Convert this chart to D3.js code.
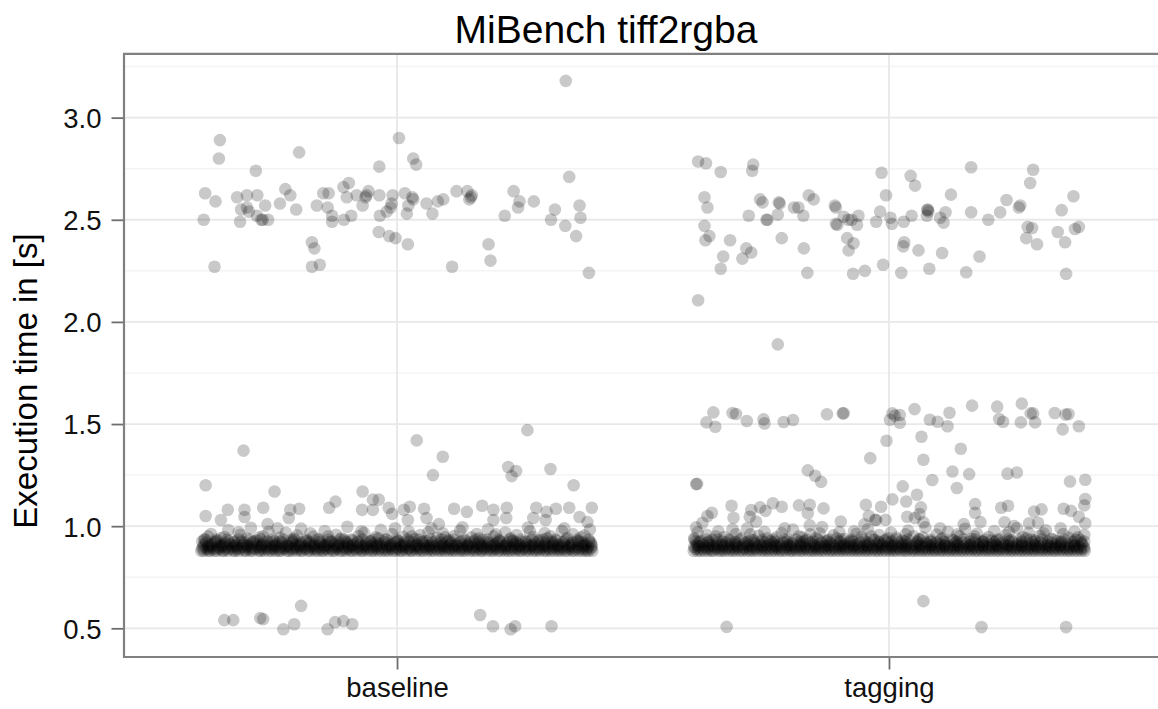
<!DOCTYPE html>
<html><head><meta charset="utf-8">
<script src="https://cdn.jsdelivr.net/npm/d3@7"></script>
<style>body{margin:0;background:#fff}svg{display:block;font-family:"Liberation Sans",Arial,Helvetica,sans-serif}</style>
</head><body><svg id="c" width="1158" height="709"></svg>
<script>
const categories = ["baseline", "tagging"];
const yTicks = [0.5, 1.0, 1.5, 2.0, 2.5, 3.0];
const yMinorTicks = [0.75, 1.25, 1.75, 2.25, 2.75, 3.25];
const titleText = "MiBench tiff2rgba";
const yLabel = "Execution time in [s]";

// Each point: [jitter, execution time]. Jitter is given in thousandths of the category step.
const baselineOutliers = [
[343,3.18],[-360,2.89],[-362,2.80],[-199,2.83],[-287,2.74],[4,2.90],[33,2.80],[39,2.77],[-36,2.76],[350,2.71],
[-390,2.63],[-369,2.59],[-393,2.50],[-371,2.27],[-325,2.61],[-305,2.62],[-284,2.62],[-317,2.55],[-305,2.56],[-301,2.54],
[-319,2.49],[-285,2.52],[-276,2.50],[-273,2.50],[-262,2.50],[-268,2.57],[-238,2.58],[-227,2.65],[-217,2.62],[-205,2.55],
[-163,2.57],[-150,2.63],[-139,2.63],[-141,2.56],[-132,2.52],[-132,2.49],[-108,2.50],[-93,2.52],[-109,2.66],[-98,2.68],
[-102,2.61],[-82,2.62],[-70,2.57],[-62,2.62],[-58,2.64],[-64,2.61],[-36,2.62],[-35,2.52],[-21,2.54],[-13,2.56],
[-11,2.58],[-9,2.62],[16,2.63],[31,2.61],[33,2.60],[23,2.57],[20,2.53],[-37,2.44],[-16,2.42],[-3,2.41],
[22,2.38],[-173,2.39],[-168,2.36],[-173,2.27],[-157,2.28],[60,2.58],[72,2.53],[83,2.59],[94,2.60],[121,2.64],
[143,2.64],[147,2.60],[152,2.62],[150,2.61],[112,2.27],[186,2.38],[190,2.30],[219,2.52],[237,2.64],[249,2.59],
[246,2.56],[278,2.59],[321,2.55],[313,2.50],[342,2.47],[364,2.42],[371,2.57],[373,2.51],[390,2.24],
[265,1.47],[40,1.42],[-312,1.37],[93,1.34],[73,1.25],[226,1.29],[242,1.27],[233,1.245],[312,1.28],[359,1.20],
[-389,1.20],[-249,1.17],[-70,1.17],[-49,1.13],[-37,1.13],[-125,1.12],[-138,1.09],[-389,1.05],[-358,1.03],[-344,1.08],
[-310,1.08],[-310,1.045],[-272,1.09],[-217,1.08],[-199,1.085],[-220,1.04],[-263,1.01],[-71,1.08],[-49,1.08],[-17,1.09],
[-10,1.06],[14,1.08],[26,1.095],[22,1.03],[55,1.085],[60,1.04],[85,1.01],[116,1.085],[142,1.07],[173,1.10],
[196,1.08],[223,1.09],[196,1.03],[222,1.04],[283,1.09],[304,1.07],[323,1.085],[277,1.04],[302,1.03],[350,1.09],
[371,1.045],[396,1.09],[387,1.02],
[-351,0.54],[-333,0.54],[-278,0.55],[-272,0.545],[-195,0.61],[-231,0.495],[-209,0.52],[-141,0.495],[-126,0.53],[-109,0.535],
[-91,0.52],[169,0.565],[195,0.51],[231,0.495],[240,0.51],[314,0.51]
];
const baselineFringe = [
[-392,0.935],[-378,0.962],[-366,0.928],[-351,0.947],[-343,0.981],[-330,0.925],[-318,0.958],[-305,0.939],[-297,0.992],[-286,0.93],
[-272,0.951],[-261,0.972],[-249,0.926],[-238,0.944],[-226,0.968],[-214,0.933],[-203,0.955],[-195,0.988],[-182,0.929],[-170,0.949],
[-158,0.936],[-147,0.976],[-135,0.925],[-124,0.958],[-113,0.941],[-101,0.997],[-90,0.93],[-78,0.952],[-67,0.967],[-55,0.927],
[-44,0.945],[-33,0.982],[-21,0.934],[-10,0.961],[2,0.928],[13,0.948],[24,0.973],[36,0.937],[47,0.956],[59,0.926],
[70,0.99],[82,0.943],[93,0.965],[105,0.931],[116,0.952],[128,0.978],[139,0.927],[151,0.946],[162,0.962],[174,0.933],
[185,0.985],[197,0.95],[208,0.928],[220,0.969],[231,0.94],[243,0.957],[254,0.925],[266,0.993],[277,0.947],[289,0.932],
[300,0.966],[312,0.951],[323,0.929],[335,0.977],[346,0.942],[358,0.96],[369,0.926],[381,0.954],[392,0.984],
[-384,0.95],[-358,0.94],[-322,0.97],[-280,0.945],[-243,0.99],[-209,0.94],[-176,0.965],[-140,0.95],[-107,0.935],[-72,0.975],
[-38,0.94],[-4,0.99],[30,0.95],[64,0.97],[98,0.945],[133,0.995],[167,0.94],[201,0.96],[236,0.93],[270,0.975],
[305,0.94],[340,0.99],[374,0.945]
];
// Dense band: [execution time, jitters of the runs at that time]
const baselineCore = [
[0.88,[-398,-393,-384,-380,-371,-366,-355,-352,-344,-333,-329,-322,-311,-307,-298,-293,-281,-277,-270,-261,-255,-247,-240,-236,-224,-219,-213,-204,-196,-192,-181,-176,-167,-161,-153,-149,-139,-131,-127,-116,-111,-104,-95,-90,-82,-73,-69,-60,-52,-47,-38,-31,-24,-18,-9,-3,6,10,19,27,31,40,48,53,62,69,75,84,90,97,105,112,118,127,133,139,148,155,161,170,174,183,191,196,205,211,219,226,232,240,248,253,262,268,277,283,290,299,304,312,319,327,333,341,347,356,361,370,377,384,389,397]],
[0.89,[-396,-387,-382,-373,-365,-359,-349,-343,-334,-326,-320,-310,-302,-295,-288,-279,-273,-264,-256,-250,-240,-233,-227,-217,-210,-203,-195,-187,-180,-171,-165,-156,-148,-142,-133,-125,-119,-109,-102,-96,-86,-79,-72,-64,-57,-48,-41,-34,-25,-18,-11,-2,4,13,21,26,36,43,49,59,66,72,81,88,95,104,110,117,127,133,141,149,156,164,172,178,187,195,201,210,218,224,233,241,247,256,263,270,279,286,292,302,309,316,325,331,339,348,354,363,371,378,386,394]],
[0.90,[-394,-384,-376,-363,-355,-346,-333,-325,-314,-305,-296,-284,-276,-266,-256,-247,-236,-226,-218,-206,-198,-188,-177,-169,-158,-149,-139,-128,-120,-109,-99,-91,-80,-70,-61,-50,-42,-31,-21,-13,-2,8,16,27,37,45,56,66,74,86,95,103,115,124,133,144,153,162,173,182,191,202,211,220,231,240,249,260,269,278,289,298,307,318,327,336,347,356,367,378,388,396]],
[0.905,[-383,-357,-330,-305,-276,-251,-224,-199,-171,-146,-119,-93,-66,-41,-14,12,39,64,91,117,143,169,196,221,248,274,300,326,352,379]],
[0.91,[-392,-377,-366,-351,-339,-326,-312,-300,-285,-274,-259,-247,-233,-221,-206,-195,-180,-168,-154,-142,-127,-116,-101,-90,-75,-63,-49,-37,-22,-11,4,15,30,41,56,68,82,94,108,120,134,146,160,172,186,198,212,224,238,250,264,276,290,302,316,328,342,354,369,383,395]],
[0.92,[-388,-370,-349,-331,-310,-293,-272,-254,-234,-215,-195,-178,-157,-139,-118,-101,-80,-63,-42,-24,-4,14,34,52,72,90,110,128,148,166,186,204,224,242,262,280,300,318,338,357,377,394]],
[0.925,[-396,-369,-343,-316,-291,-263,-238,-211,-185,-158,-133,-105,-80,-53,-27,0,25,52,78,104,130,157,182,209,235,262,287,314,340,367,391]],
[0.935,[-390,-368,-345,-322,-299,-277,-253,-231,-208,-185,-162,-139,-116,-93,-70,-47,-24,-1,22,45,68,91,114,137,160,183,206,229,252,275,298,321,344,367,390]]
];

const taggingOutliers = [
[-388,2.785],[-372,2.777],[-342,2.734],[-276,2.77],[-278,2.74],[-375,2.61],[-369,2.56],[-375,2.47],[-365,2.42],[-373,2.40],
[-388,2.106],[-342,2.26],[-337,2.32],[-323,2.40],[-298,2.31],[-290,2.36],[-280,2.34],[-285,2.52],[-262,2.60],[-257,2.585],
[-249,2.50],[-247,2.50],[-224,2.585],[-222,2.58],[-226,2.525],[-218,2.41],[-226,1.89],[-193,2.56],[-184,2.56],[-174,2.52],
[-173,2.36],[-166,2.24],[-163,2.62],[-153,2.60],[-110,2.57],[-108,2.56],[-108,2.48],[-105,2.475],[-92,2.515],[-83,2.50],
[-76,2.50],[-62,2.52],[-65,2.476],[-85,2.41],[-72,2.385],[-82,2.35],[-73,2.236],[-49,2.25],[-15,2.73],[-6,2.62],
[-18,2.54],[-26,2.49],[3,2.51],[6,2.48],[30,2.49],[-12,2.28],[25,2.24],[31,2.39],[29,2.37],[44,2.715],
[53,2.667],[46,2.52],[60,2.35],[78,2.548],[79,2.55],[80,2.54],[77,2.52],[82,2.26],[104,2.51],[111,2.486],
[115,2.537],[126,2.623],[108,2.337],[157,2.243],[167,2.757],[167,2.537],[184,2.32],[202,2.50],[226,2.537],[239,2.597],
[264,2.56],[267,2.57],[293,2.745],[287,2.68],[282,2.465],[291,2.46],[279,2.41],[301,2.38],[351,2.547],[375,2.615],
[343,2.44],[358,2.39],[378,2.455],[386,2.465],[360,2.235],
[-357,1.557],[-371,1.508],[-353,1.487],[-318,1.554],[-311,1.549],[-289,1.515],[-255,1.523],[-253,1.503],[-214,1.51],[-195,1.52],
[-126,1.548],[-94,1.552],[-92,1.553],[7,1.552],[12,1.541],[2,1.521],[22,1.544],[22,1.506],[52,1.573],[83,1.521],
[99,1.511],[119,1.489],[123,1.555],[169,1.59],[220,1.585],[224,1.525],[232,1.511],[270,1.60],[268,1.508],[288,1.552],
[293,1.552],[297,1.508],[337,1.554],[359,1.546],[365,1.549],[353,1.474],[386,1.489],
[-5,1.418],[66,1.438],[-38,1.333],[70,1.325],[146,1.379],[-165,1.273],[-150,1.247],[-138,1.217],[-392,1.206],[-390,1.207],
[129,1.268],[163,1.255],[88,1.226],[138,1.187],[28,1.195],[7,1.131],[35,1.121],[57,1.154],[241,1.257],[260,1.263],
[368,1.219],[399,1.227],[399,1.133],[397,1.102],[175,1.108],[175,1.066],[228,1.09],[242,1.10],[295,1.071],[310,1.082],
[355,1.085],[370,1.075],[-320,1.10],[-316,1.041],[-360,1.066],[-369,1.05],[-379,1.017],[-392,0.994],[-280,1.079],[-283,1.046],
[-270,1.022],[-262,1.092],[-251,1.075],[-236,1.112],[-218,1.095],[-183,1.102],[-161,1.105],[-165,1.063],[-133,1.087],[-161,1.004],
[-98,1.023],[-47,1.105],[-16,1.095],[-41,1.05],[-28,1.031],[-26,1.03],[-50,1.009],[-7,1.031],[37,1.046],[53,1.04],
[65,1.092],[62,1.059],[70,1.019],[152,1.01],[186,1.02],[235,1.019],[254,1.0],[285,1.014],[303,1.017],[386,1.046],[399,1.014],
[70,0.633],[-330,0.507],[188,0.506],[360,0.506]
];
const taggingFringe = [
[-396,0.94],[-383,0.926],[-371,0.958],[-359,0.933],[-347,0.975],[-335,0.947],[-324,0.929],[-311,0.962],[-300,0.94],[-288,0.99],
[-276,0.931],[-265,0.953],[-253,0.972],[-241,0.927],[-229,0.945],[-218,0.966],[-206,0.935],[-195,0.983],[-183,0.95],[-171,0.928],
[-160,0.96],[-148,0.942],[-136,0.996],[-125,0.93],[-113,0.955],[-101,0.971],[-90,0.938],[-78,0.926],[-66,0.963],[-55,0.948],
[-43,0.985],[-31,0.932],[-20,0.957],[-8,0.928],[4,0.969],[15,0.944],[27,0.93],[39,0.978],[50,0.951],[62,0.936],
[74,0.994],[85,0.925],[97,0.959],[109,0.941],[120,0.973],[132,0.929],[144,0.952],[155,0.987],[167,0.937],[179,0.963],
[190,0.926],[202,0.947],[214,0.976],[225,0.934],[237,0.956],[249,0.929],[260,0.991],[272,0.945],[284,0.967],[295,0.931],
[307,0.953],[319,0.98],[330,0.938],[342,0.927],[354,0.961],[365,0.944],[377,0.974],[389,0.932],[397,0.957],
[-389,0.97],[-352,0.95],[-318,0.985],[-282,0.96],[-247,0.94],[-212,0.99],[-177,0.945],[-141,0.965],[-106,0.94],[-71,0.975],
[-36,0.95],[-1,0.94],[34,0.96],[69,0.945],[104,0.99],[139,0.96],[174,0.95],[209,0.93],[244,0.97],[279,0.94],
[314,0.965],[349,0.99],[384,0.945]
];
const taggingCore = [
[0.88,[-397,-389,-383,-376,-368,-361,-356,-346,-340,-334,-325,-318,-312,-303,-297,-289,-282,-276,-268,-259,-253,-246,-238,-232,-223,-217,-210,-201,-196,-188,-180,-174,-165,-158,-152,-144,-137,-130,-121,-115,-108,-100,-93,-86,-78,-71,-64,-57,-49,-43,-35,-27,-21,-13,-6,2,9,15,24,31,37,46,52,60,67,74,81,89,95,103,109,117,124,131,138,146,152,160,167,175,181,189,196,203,210,218,224,232,239,247,253,261,268,275,282,290,296,304,311,318,325,333,339,347,354,362,368,376,383,391,398]],
[0.89,[-394,-388,-379,-370,-364,-354,-347,-339,-331,-323,-315,-308,-298,-292,-283,-275,-268,-259,-252,-244,-235,-228,-221,-212,-204,-197,-189,-180,-173,-166,-157,-149,-142,-134,-126,-118,-110,-102,-95,-87,-79,-71,-63,-56,-47,-40,-32,-24,-17,-8,0,7,15,23,31,39,47,54,62,70,78,86,93,101,109,117,125,132,140,148,156,164,171,179,187,195,203,210,218,226,234,242,249,257,265,273,281,288,296,304,312,320,327,335,343,351,359,366,374,382,390,397]],
[0.90,[-396,-386,-375,-367,-356,-347,-338,-326,-317,-308,-298,-288,-278,-268,-258,-249,-238,-229,-220,-209,-199,-190,-180,-170,-160,-150,-140,-131,-121,-111,-101,-92,-82,-72,-62,-53,-43,-33,-23,-13,-4,6,16,26,35,45,55,65,74,84,94,104,113,123,133,143,152,162,172,182,191,201,211,221,230,240,250,260,269,279,289,299,308,318,328,338,347,357,367,377,386,396]],
[0.905,[-389,-361,-336,-309,-283,-256,-230,-203,-178,-150,-125,-97,-72,-45,-19,8,33,61,86,113,138,166,191,218,243,271,296,323,348,376]],
[0.91,[-391,-378,-366,-350,-340,-324,-313,-297,-287,-271,-261,-246,-233,-222,-207,-196,-181,-170,-154,-144,-129,-118,-102,-92,-77,-66,-50,-40,-24,-14,2,11,27,37,53,63,79,88,105,114,131,140,157,166,183,192,209,218,235,244,261,270,287,296,313,322,339,349,365,378,393]],
[0.92,[-386,-369,-350,-330,-312,-292,-274,-253,-236,-214,-197,-176,-159,-137,-120,-98,-81,-59,-42,-20,-3,19,36,58,75,97,114,136,153,175,192,214,231,253,270,292,309,331,350,372,391]],
[0.925,[-392,-366,-339,-313,-286,-260,-233,-207,-180,-154,-127,-101,-74,-48,-21,5,32,58,85,111,138,164,191,217,244,270,297,323,350,376,397]],
[0.935,[-395,-371,-349,-326,-303,-280,-258,-235,-212,-189,-167,-144,-121,-98,-76,-53,-30,-7,15,38,61,84,106,129,152,175,197,220,243,266,288,311,334,357,379]]
];

const W = 1158, H = 709;
const panel = {left: 124, top: 53.8, right: 1163, bottom: 657};
const svg = d3.select("#c");

const x = d3.scalePoint().domain(categories).range([123.5, 1162.5]).padding(0.556);
const y = d3.scaleLinear().domain([0.3595, 3.314]).range([657, 53.5]);

// grid
const g = svg.append("g");
g.selectAll("line.minor").data(yMinorTicks).join("line")
  .attr("x1", panel.left).attr("x2", W).attr("y1", d => y(d)).attr("y2", d => y(d))
  .attr("stroke", "#f4f4f4").attr("stroke-width", 1.5);
g.selectAll("line.major").data(yTicks).join("line")
  .attr("x1", panel.left).attr("x2", W).attr("y1", d => y(d)).attr("y2", d => y(d))
  .attr("stroke", "#e8e8e8").attr("stroke-width", 1.8);
g.selectAll("line.vmajor").data(categories).join("line")
  .attr("x1", d => x(d)).attr("x2", d => x(d)).attr("y1", panel.top).attr("y2", panel.bottom)
  .attr("stroke", "#e8e8e8").attr("stroke-width", 1.8);

// points
function build(cat, outliers, fringe, core) {
  const pts = [];
  core.forEach(([v, js]) => js.forEach(j => pts.push({cat, j, v})));
  fringe.forEach(([j, v]) => pts.push({cat, j, v}));
  outliers.forEach(([j, v]) => pts.push({cat, j, v}));
  return pts;
}
const points = build("baseline", baselineOutliers, baselineFringe, baselineCore)
  .concat(build("tagging", taggingOutliers, taggingFringe, taggingCore));

svg.append("g").selectAll("circle").data(points).join("circle")
  .attr("cx", d => x(d.cat) + x.step() * d.j / 1000)
  .attr("cy", d => y(d.v))
  .attr("r", 6.3)
  .attr("fill", "#000")
  .attr("fill-opacity", 0.21);

// panel border (top, left, bottom)
svg.append("path")
  .attr("d", `M${W + 5},${panel.top}H${panel.left}V${panel.bottom}H${W + 5}`)
  .attr("fill", "none").attr("stroke", "#808080").attr("stroke-width", 2.2);

// y axis
const ya = svg.append("g").attr("transform", `translate(${panel.left - 1},0)`)
  .call(d3.axisLeft(y).tickValues(yTicks).tickFormat(d3.format(".1f")).tickSize(11.5).tickPadding(10));
ya.select(".domain").remove();
ya.selectAll(".tick line").attr("stroke", "#6e6e6e").attr("stroke-width", 1.8);
ya.selectAll(".tick text").attr("fill", "#111").attr("font-size", 27.5)
  .attr("font-family", '"Liberation Sans",Arial,sans-serif').attr("dy", "0.36em");

// x axis
const xa = svg.append("g").attr("transform", `translate(0,${panel.bottom + 1})`)
  .call(d3.axisBottom(x).tickSize(11.5));
xa.select(".domain").remove();
xa.selectAll(".tick line").attr("stroke", "#6e6e6e").attr("stroke-width", 1.8);
xa.selectAll(".tick text").attr("fill", "#111").attr("font-size", 27.5)
  .attr("font-family", '"Liberation Sans",Arial,sans-serif').attr("y", 38.7).attr("dy", 0);

// title
svg.append("text").attr("x", 606).attr("y", 42.7).attr("text-anchor", "middle")
  .attr("font-size", 39).attr("fill", "#000").text(titleText);

// y label
svg.append("text").attr("transform", "translate(36.7,381) rotate(-90)")
  .attr("text-anchor", "middle").attr("font-size", 33).attr("fill", "#000").text(yLabel);
</script></body></html>
